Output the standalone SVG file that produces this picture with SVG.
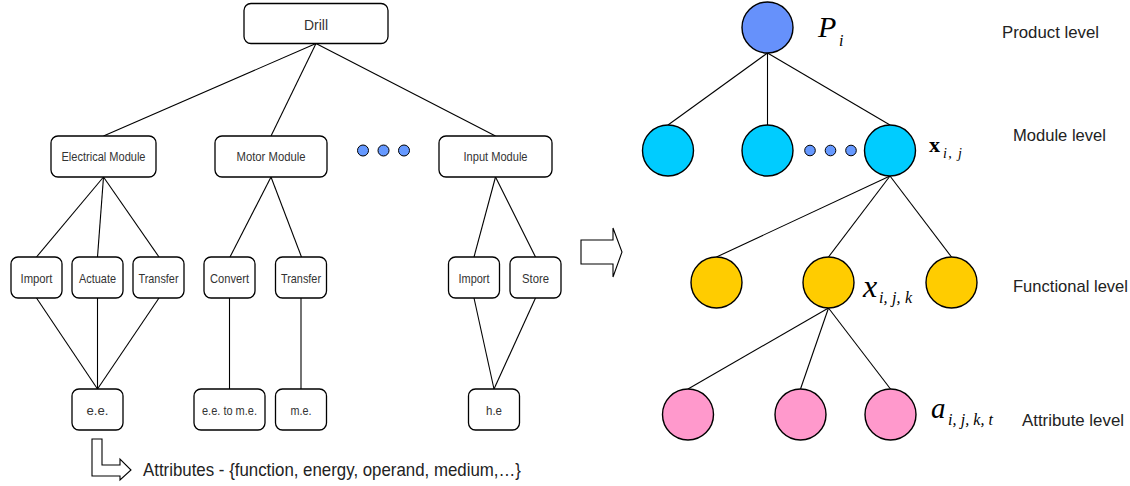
<svg xmlns="http://www.w3.org/2000/svg" width="1130" height="486" viewBox="0 0 1130 486">
<style>
.box{fill:#fff;stroke:#000;stroke-width:1.3}
.lbl{font-family:"Liberation Sans",Arial,sans-serif;fill:#333;text-anchor:middle}
.lvl{font-family:"Liberation Sans",Arial,sans-serif;fill:#222;font-size:17px}
.con line{stroke:#000;stroke-width:1.1}
.c{stroke:#000;stroke-width:1.4}
.m{font-family:"Liberation Serif","Times New Roman",serif;fill:#000;font-style:italic}
.dot{fill:#6699ff;stroke:#000;stroke-width:1}
</style>
<rect width="1130" height="486" fill="#fff"/>
<g class="con">
<line x1="316" y1="43.5" x2="103.5" y2="136"/>
<line x1="316" y1="43.5" x2="271" y2="136"/>
<line x1="316" y1="43.5" x2="495.5" y2="136"/>
<line x1="103.5" y1="177" x2="36.5" y2="257"/>
<line x1="103.5" y1="177" x2="97.5" y2="257"/>
<line x1="103.5" y1="177" x2="159" y2="257"/>
<line x1="271" y1="177" x2="230" y2="257"/>
<line x1="271" y1="177" x2="301.5" y2="257"/>
<line x1="495.5" y1="177" x2="474" y2="257"/>
<line x1="495.5" y1="177" x2="535.5" y2="257"/>
<line x1="36.5" y1="298" x2="97.5" y2="389"/>
<line x1="97.5" y1="298" x2="97.5" y2="389"/>
<line x1="159" y1="298" x2="97.5" y2="389"/>
<line x1="229.5" y1="298" x2="229.5" y2="389"/>
<line x1="301" y1="298" x2="301" y2="389"/>
<line x1="474" y1="298" x2="494" y2="389"/>
<line x1="535.5" y1="298" x2="494" y2="389"/>
<line x1="767.5" y1="53" x2="668" y2="125"/>
<line x1="767.5" y1="53" x2="767.5" y2="125"/>
<line x1="767.5" y1="53" x2="890" y2="125"/>
<line x1="890" y1="176" x2="716.5" y2="257"/>
<line x1="890" y1="176" x2="828.5" y2="257"/>
<line x1="890" y1="176" x2="951.5" y2="257"/>
<line x1="828.5" y1="308" x2="688" y2="389"/>
<line x1="828.5" y1="308" x2="800.5" y2="389"/>
<line x1="828.5" y1="308" x2="890.5" y2="389"/>
</g>
<g id="drill"><rect class="box" x="244" y="3.5" width="144" height="40" rx="7"/><text class="lbl" x="316" y="29.5" font-size="15" textLength="24" lengthAdjust="spacingAndGlyphs">Drill</text></g>
<g id="electrical"><rect class="box" x="51" y="136" width="105" height="41" rx="7"/><text class="lbl" x="103.5" y="161" font-size="12.5" textLength="84" lengthAdjust="spacingAndGlyphs">Electrical Module</text></g>
<g id="motor"><rect class="box" x="215" y="136" width="112" height="41" rx="7"/><text class="lbl" x="271" y="161" font-size="12.5" textLength="69" lengthAdjust="spacingAndGlyphs">Motor Module</text></g>
<g id="dots-left"><circle class="dot" cx="363" cy="150.5" r="5.5"/><circle class="dot" cx="383.5" cy="150.5" r="5.5"/><circle class="dot" cx="404" cy="150.5" r="5.5"/></g>
<g id="input"><rect class="box" x="439" y="136" width="113" height="41" rx="7"/><text class="lbl" x="495.5" y="161" font-size="12.5" textLength="64" lengthAdjust="spacingAndGlyphs">Input Module</text></g>
<g id="import1"><rect class="box" x="11" y="257" width="51" height="41" rx="7"/><text class="lbl" x="36.5" y="283" font-size="13" textLength="32" lengthAdjust="spacingAndGlyphs">Import</text></g>
<g id="actuate"><rect class="box" x="72" y="257" width="51" height="41" rx="7"/><text class="lbl" x="97.5" y="283" font-size="13" textLength="37" lengthAdjust="spacingAndGlyphs">Actuate</text></g>
<g id="transfer1"><rect class="box" x="133" y="257" width="51" height="41" rx="7"/><text class="lbl" x="158.5" y="283" font-size="13" textLength="40" lengthAdjust="spacingAndGlyphs">Transfer</text></g>
<g id="convert"><rect class="box" x="204" y="257" width="51" height="41" rx="7"/><text class="lbl" x="229.5" y="283" font-size="13" textLength="39" lengthAdjust="spacingAndGlyphs">Convert</text></g>
<g id="transfer2"><rect class="box" x="275.5" y="257" width="51" height="41" rx="7"/><text class="lbl" x="301" y="283" font-size="13" textLength="40" lengthAdjust="spacingAndGlyphs">Transfer</text></g>
<g id="import2"><rect class="box" x="448.5" y="257" width="51" height="41" rx="7"/><text class="lbl" x="474" y="283" font-size="13" textLength="31" lengthAdjust="spacingAndGlyphs">Import</text></g>
<g id="store"><rect class="box" x="510" y="257" width="51" height="41" rx="7"/><text class="lbl" x="535.5" y="283" font-size="13" textLength="27" lengthAdjust="spacingAndGlyphs">Store</text></g>
<g id="ee"><rect class="box" x="72" y="389" width="51" height="41" rx="7"/><text class="lbl" x="97.5" y="415" font-size="12.5" textLength="22" lengthAdjust="spacingAndGlyphs">e.e.</text></g>
<g id="ee-me"><rect class="box" x="194" y="389" width="71" height="41" rx="7"/><text class="lbl" x="229.5" y="415" font-size="12.5" textLength="55" lengthAdjust="spacingAndGlyphs">e.e. to m.e.</text></g>
<g id="me"><rect class="box" x="275.5" y="389" width="51" height="41" rx="7"/><text class="lbl" x="301" y="415" font-size="12.5" textLength="21" lengthAdjust="spacingAndGlyphs">m.e.</text></g>
<g id="he"><rect class="box" x="468.5" y="389" width="51" height="41" rx="7"/><text class="lbl" x="494" y="415" font-size="12.5" textLength="16" lengthAdjust="spacingAndGlyphs">h.e</text></g>
<g id="attributes-note">
<path d="M92,439 H102 V465 H120 V459 L131,470 L120,480 V476 H92 Z" fill="#fff" stroke="#000" stroke-width="1.1"/>
<text x="143" y="476" font-family="Liberation Sans,Arial,sans-serif" font-size="19" fill="#222" textLength="378" lengthAdjust="spacingAndGlyphs">Attributes - {function, energy, operand, medium,…}</text>
</g>
<g id="transform-arrow"><path d="M581,240 H613 V228 L622,252 L613,277 V264 H581 Z" fill="#fff" stroke="#000" stroke-width="1.1"/></g>
<g id="product"><circle class="c" cx="767.5" cy="27.5" r="25.5" fill="#6691fb"/>
<text class="m" x="818" y="37" font-size="30">P</text><text class="m" x="839" y="46" font-size="16">i</text></g>
<g id="module1"><circle class="c" cx="668" cy="150.5" r="25.5" fill="#00ccff"/></g>
<g id="module2"><circle class="c" cx="767.5" cy="150.5" r="25.5" fill="#00ccff"/></g>
<g id="dots-right"><circle class="dot" cx="810" cy="150.5" r="5.3"/><circle class="dot" cx="830.5" cy="150.5" r="5.3"/><circle class="dot" cx="851" cy="150.5" r="5.3"/></g>
<g id="module3"><circle class="c" cx="890" cy="150.5" r="25.5" fill="#00ccff"/>
<text x="929" y="152" font-family="Liberation Serif,Times New Roman,serif" font-weight="bold" font-size="22">x</text><text class="m" x="943" y="158" font-size="14" textLength="19" lengthAdjust="spacing">i, j</text></g>
<g id="func2"><circle class="c" cx="828.5" cy="282.5" r="25.5" fill="#ffcc00"/>
<text class="m" x="863" y="297" font-size="32">x</text><text class="m" x="879" y="303" font-size="16" textLength="33" lengthAdjust="spacing">i, j, k</text></g>
<g id="func1"><circle class="c" cx="716.5" cy="282.5" r="25.5" fill="#ffcc00"/></g>
<g id="func3"><circle class="c" cx="951.5" cy="282.5" r="25.5" fill="#ffcc00"/></g>
<g id="attr1"><circle class="c" cx="688" cy="414.5" r="25.5" fill="#ff99cc"/></g>
<g id="attr2"><circle class="c" cx="800.5" cy="414.5" r="25.5" fill="#ff99cc"/></g>
<g id="attr3"><circle class="c" cx="890.5" cy="414.5" r="25.5" fill="#ff99cc"/>
<text class="m" x="931" y="418" font-size="29">a</text><text class="m" x="948" y="425" font-size="16" textLength="45" lengthAdjust="spacing">i, j, k, t</text></g>
<g id="levels">
<text class="lvl" x="1002" y="38" textLength="97" lengthAdjust="spacingAndGlyphs">Product level</text>
<text class="lvl" x="1013" y="141" textLength="93" lengthAdjust="spacingAndGlyphs">Module level</text>
<text class="lvl" x="1013" y="292" textLength="115" lengthAdjust="spacingAndGlyphs">Functional level</text>
<text class="lvl" x="1022" y="426" textLength="102" lengthAdjust="spacingAndGlyphs">Attribute level</text>
</g>
</svg>
